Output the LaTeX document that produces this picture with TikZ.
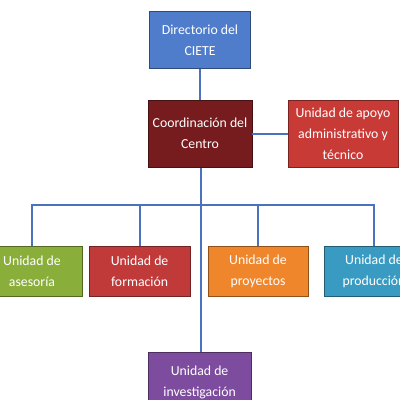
\documentclass[tikz,border=0pt]{standalone}
\usepackage{fontspec}
\setmainfont{Carlito}
\usepackage{tikz}
\usetikzlibrary{positioning,calc}
\definecolor{linecol}{HTML}{4A72BE}
\definecolor{dircol}{HTML}{4F7DCB}
\definecolor{coordcol}{HTML}{761C1E}
\definecolor{apoyocol}{HTML}{C83A36}
\definecolor{asecol}{HTML}{8AAE3A}
\definecolor{formcol}{HTML}{C03A3A}
\definecolor{proycol}{HTML}{F0862C}
\definecolor{prodcol}{HTML}{3A9BC2}
\definecolor{invcol}{HTML}{7E4C9E}

\begin{document}
\begin{tikzpicture}[
  unit/.style = {
    draw,
    rectangle,
    line width = 0.6pt,
    text = white,
    align = center,
    font = \fontsize{9.8}{15}\selectfont,
    minimum width = 2.5cm,
    minimum height = 1.25cm,
  },
  tall/.style = {
    unit,
    minimum height = 1.675cm,
  },
  link/.style = {
    draw = linecol,
    line width = 1.4pt,
  },
]

  \useasboundingbox (0,0) rectangle (10,-10);
  \clip (0,0) rectangle (10,-10);

  \node[unit,fill=dircol,draw=dircol!60!black,minimum width=2.525cm,minimum height=1.425cm] (dir) at (5.0,-1.0) {Directorio del\\CIETE};
  \node[tall,fill=coordcol,draw=coordcol!60!black,minimum width=2.55cm] (coord) at (5.0,-3.34) {Coordinación del\\Centro};
  \node[tall,fill=apoyocol,draw=apoyocol!60!black,minimum width=2.75cm] (apoyo) at (8.575,-3.34) {Unidad de apoyo\\administrativo y\\técnico};

  % second level
  \node[unit,fill=asecol,draw=asecol!60!black] (ase) at (0.8,-6.775) {Unidad de\\asesoría};
  \node[unit,fill=formcol,draw=formcol!60!black,minimum width=2.525cm] (form) at (3.49,-6.775) {Unidad de\\formación};
  \node[unit,fill=proycol,draw=proycol!60!black] (proy) at (6.45,-6.775) {Unidad de\\proyectos};
  \node[unit,fill=prodcol,draw=prodcol!60!black] (prod) at (9.35,-6.775) {Unidad de\\producción};

  \node[unit,fill=invcol,draw=invcol!60!black,minimum width=2.575cm,minimum height=1.5cm] (inv) at (4.99,-9.55) {Unidad de\\investigación};

  \coordinate (bus) at (5.025,-5.125);

  \path[link] (dir) -- (coord);
  \path[link] (coord) -- (apoyo);
  \path[link] (coord.south -| bus) -- (inv.north -| bus);
  \path[link] (ase.north) |- (bus) -| (prod.north);
  \path[link] (form.north) -- (form.north |- bus);
  \path[link] (proy.north) -- (proy.north |- bus);

\end{tikzpicture}
\end{document}
